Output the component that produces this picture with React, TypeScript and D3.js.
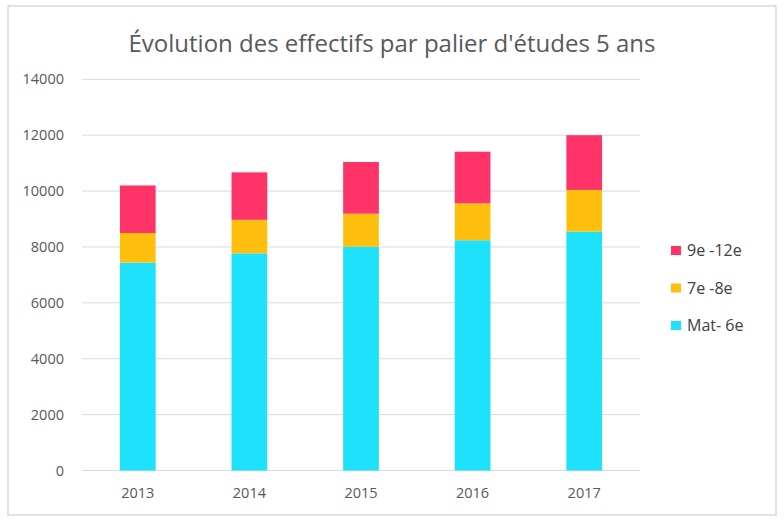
import * as d3 from "d3";
import React, { useEffect, useRef } from "react";

const years = ["2013", "2014", "2015", "2016", "2017"];
const matSix = [7440, 7770, 8010, 8240, 8550];
const septHuit = [1060, 1200, 1180, 1320, 1490];
const neufDouze = [1700, 1700, 1850, 1850, 1960];
const seriesNames = ["Mat- 6e", "7e -8e", "9e -12e"];
const seriesColors = ["#1ee1fb", "#ffbf0f", "#fe3469"];
const yTicks = [0, 2000, 4000, 6000, 8000, 10000, 12000, 14000];

const W = 784,
  H = 523;

const App: React.FC = () => {
  const ref = useRef<SVGSVGElement>(null);

  useEffect(() => {
    if (!ref.current) return;
    const svg = d3.select(ref.current);
    svg.selectAll("*").remove();

    const rows = years.map((y, i) => ({
      year: y,
      "Mat- 6e": matSix[i],
      "7e -8e": septHuit[i],
      "9e -12e": neufDouze[i],
    }));

    const x = d3.scaleBand().domain(years).range([82, 640]).paddingInner(0.68).paddingOuter(0.34);
    const y = d3.scaleLinear().domain([0, 14000]).range([470.5, 79.3]);

    // outer border
    svg
      .append("rect")
      .attr("x", 8)
      .attr("y", 6)
      .attr("width", 768)
      .attr("height", 509)
      .attr("fill", "#fff")
      .attr("stroke", "#d9d9d9")
      .attr("stroke-width", 1.5);

    svg
      .append("text")
      .attr("x", 392)
      .attr("y", 52)
      .attr("text-anchor", "middle")
      .style("font-family", "'Open Sans', sans-serif")
      .style("font-size", "24px")
      .style("fill", "#595959")
      .text("Évolution des effectifs par palier d'études 5 ans");

    // gridlines
    svg
      .append("g")
      .selectAll("line")
      .data(yTicks)
      .join("line")
      .attr("x1", 82)
      .attr("x2", 640)
      .attr("y1", (d) => y(d))
      .attr("y2", (d) => y(d))
      .attr("stroke", "#d9d9d9")
      .attr("stroke-width", 1);

    svg
      .append("g")
      .selectAll("text")
      .data(yTicks)
      .join("text")
      .attr("x", 64)
      .attr("y", (d) => y(d))
      .attr("dy", "0.35em")
      .attr("text-anchor", "end")
      .style("font-family", "'Open Sans', sans-serif")
      .style("font-size", "14.5px")
      .style("fill", "#595959")
      .text((d) => String(d));

    const stack = d3.stack<any>().keys(seriesNames);
    const layers = stack(rows);

    svg
      .append("g")
      .selectAll("g")
      .data(layers)
      .join("g")
      .attr("fill", (_, i) => seriesColors[i])
      .selectAll("rect")
      .data((d) => d)
      .join("rect")
      .attr("x", (d) => x(d.data.year)!)
      .attr("width", x.bandwidth())
      .attr("y", (d) => y(d[1]))
      .attr("height", (d) => y(d[0]) - y(d[1]));

    svg
      .append("g")
      .selectAll("text")
      .data(years)
      .join("text")
      .attr("x", (d) => x(d)! + x.bandwidth() / 2)
      .attr("y", 493)
      .attr("dy", "0.35em")
      .attr("text-anchor", "middle")
      .style("font-family", "'Open Sans', sans-serif")
      .style("font-size", "14.5px")
      .style("fill", "#595959")
      .text((d) => d);

    // legend, top to bottom in reverse stack order
    const legendItems = seriesNames.map((n, i) => ({ name: n, color: seriesColors[i] })).reverse();
    const lg = svg
      .append("g")
      .selectAll("g")
      .data(legendItems)
      .join("g")
      .attr("transform", (_, i) => `translate(671,${250.5 + i * 37.5})`);
    lg.append("rect")
      .attr("x", 0)
      .attr("y", -4.5)
      .attr("width", 10)
      .attr("height", 9)
      .attr("fill", (d) => d.color);
    lg.append("text")
      .attr("x", 16)
      .attr("dy", "0.35em")
      .style("font-family", "'Open Sans', sans-serif")
      .style("font-size", "16px")
      .style("fill", "#404040")
      .text((d) => d.name);
  }, []);

  return (
    <svg
      ref={ref}
      width={W}
      height={H}
      style={{ position: "absolute", left: 0, top: 0, display: "block" }}
    />
  );
};

export default App;
